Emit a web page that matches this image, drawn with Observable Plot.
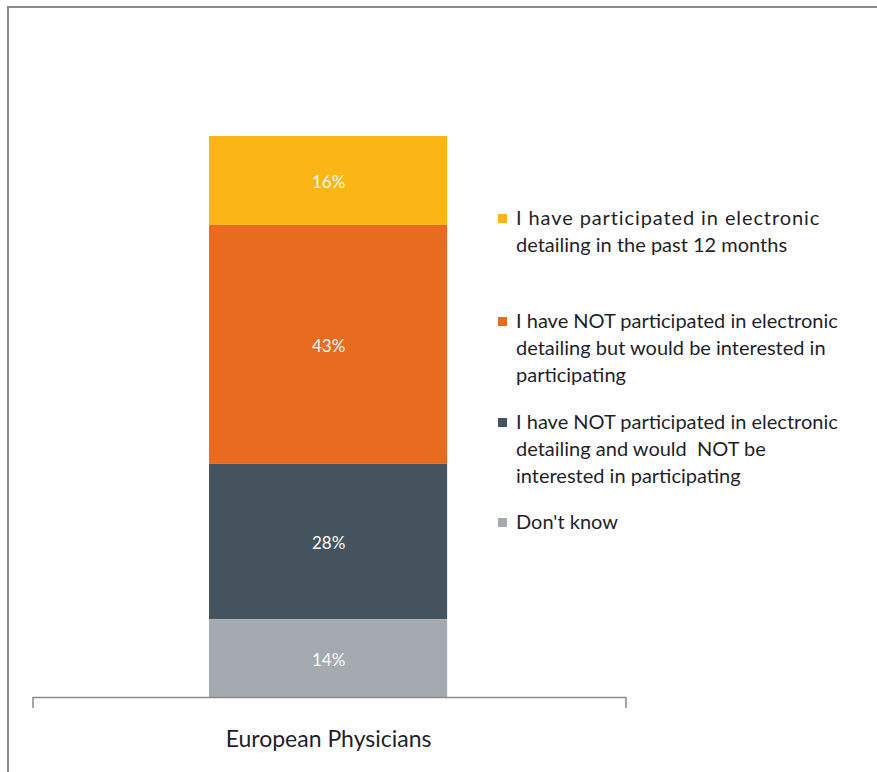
<!DOCTYPE html>
<html>
<head>
<meta charset="utf-8">
<script src="https://cdn.jsdelivr.net/npm/d3@7"></script>
<script src="https://cdn.jsdelivr.net/npm/@observablehq/plot@0.6"></script>
<style>
  html, body { margin: 0; padding: 0; background: #fff; }
  #wrap { position: relative; width: 877px; height: 772px; overflow: hidden; font-family: Lato, "Open Sans", sans-serif; }
  #frame { position: absolute; left: 7px; top: 6px; right: -10px; bottom: -10px; border-left: 2px solid #8a8a8a; border-top: 2px solid #8a8a8a; }
  #chart { position: absolute; left: 0; top: 0; }
  #legend { position: absolute; left: 498px; top: 0; width: 375px; color: #1f1f2a; font-size: 20px; line-height: 27px; }
  .item { position: absolute; left: 0; display: flex; align-items: flex-start; }
  .sw { width: 9px; height: 9px; margin-top: 10px; margin-right: 9px; flex: none; }
  .wide { letter-spacing: 0.9px; }
</style>
</head>
<body>
<div id="wrap">
  <div id="frame"></div>
  <div id="chart"></div>
  <div id="legend"></div>
</div>
<script>
const categories = ["European Physicians"];
const seriesLines = [
  ["I have participated in electronic", "detailing in the past 12 months"],
  ["I have NOT participated in electronic", "detailing but would be interested in", "participating"],
  ["I have NOT participated in electronic", "detailing and would  NOT be", "interested in participating"],
  ["Don't know"]
];
const seriesNames = seriesLines.map(l => l.join(" "));
const values = [16, 43, 28, 14];
const colors = ["#fbb615", "#e86b20", "#45535e", "#a4aaaf"];
const legendTops = [204, 307, 408, 508];

const data = seriesNames.map((s, i) => ({category: categories[0], series: s, value: values[i], label: values[i] + "%"}));

const endTicks = (index, scales, values, dimensions) => {
  const g = d3.create("svg:g").attr("stroke", "#8a8a8a").attr("stroke-width", 1.5);
  const y0 = dimensions.height - dimensions.marginBottom;
  for (const x of [dimensions.marginLeft, dimensions.width - dimensions.marginRight]) {
    g.append("line").attr("x1", x).attr("x2", x).attr("y1", y0).attr("y2", y0 + 11);
  }
  return g.node();
};

const chart = Plot.plot({
  width: 877,
  height: 772,
  marginLeft: 33,
  marginRight: 251,
  marginTop: 136,
  marginBottom: 75,
  style: {fontFamily: "Lato, 'Open Sans', sans-serif", background: "transparent"},
  x: {domain: categories, padding: 0.427, align: 0.496, round: false, axis: null},
  y: {domain: [0, 101], axis: null},
  color: {domain: seriesNames, range: colors},
  marks: [
    Plot.barY(data, Plot.stackY({x: "category", y: "value", fill: "series", reverse: true})),
    Plot.text(data, Plot.stackY({x: "category", y: "value", text: "label", reverse: true, fill: "#fbfbfb", fontSize: 17, dy: 2})),
    Plot.ruleY([0], {stroke: "#8a8a8a", strokeWidth: 1.5}),
    endTicks,
    Plot.axisX({domain: categories, tickSize: 0, tickPadding: 33, fontSize: 23, fill: "#1f1f2a", label: null})
  ]
});
document.getElementById("chart").appendChild(chart);

const legend = d3.select("#legend");
seriesLines.forEach((lines, i) => {
  const it = legend.append("div").attr("class", "item").style("top", legendTops[i] + "px");
  it.append("div").attr("class", "sw").style("background", colors[i]);
  const txt = it.append("div");
  lines.forEach((line, j) => {
    txt.append("div").attr("class", i === 0 && j === 0 ? "wide" : null).style("white-space", "pre").text(line);
  });
});
</script>
</body>
</html>
